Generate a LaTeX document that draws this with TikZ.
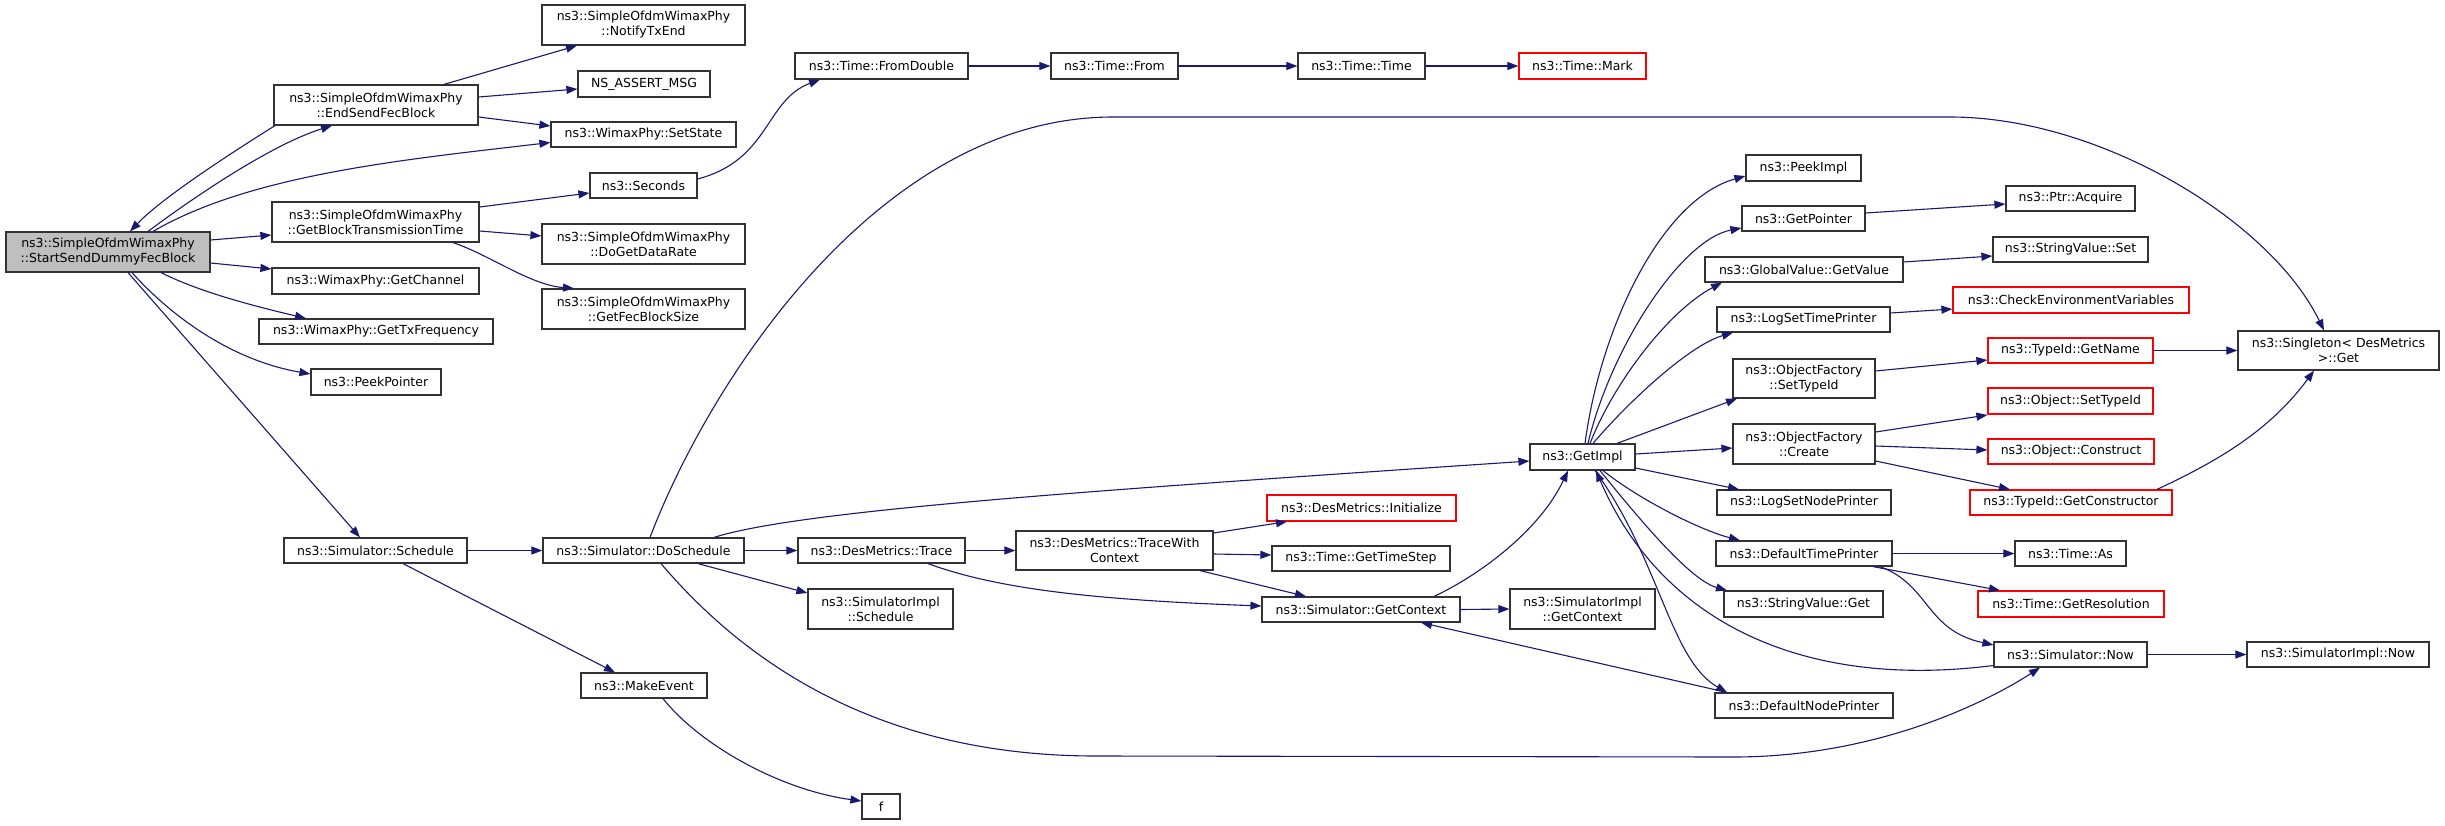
\documentclass[tikz,border=0pt]{standalone}
\usepackage{fontspec}
\setmainfont{DejaVu Sans}
\usetikzlibrary{arrows.meta}
\definecolor{edgecol}{HTML}{191970}
\definecolor{nodeborder}{HTML}{333333}
\definecolor{startfill}{HTML}{BFBFBF}
\definecolor{redborder}{HTML}{FF0000}
\newcommand\mybox[7][box]{\node[#1, minimum width=#5pt, minimum height=#6pt] (#2) at (#3,#4) {#7};}
\begin{document}
\begin{tikzpicture}[x=1pt,y=-1pt,
  box/.style={draw=nodeborder, line width=1.2pt, fill=white, inner sep=0pt, align=center, font=\fontsize{12.5}{15}\selectfont},
  redbox/.style={box, draw=redborder},
  startbox/.style={box, fill=startfill},
  edge/.style={draw=edgecol, line width=1.1pt, -{Triangle[length=11pt,width=8pt]}}]
\fill[white] (0,0) rectangle (2445,825);
\useasboundingbox (0,0) rectangle (2445,825);
% column 1
\mybox[startbox]{start}{108}{252}{204}{40}{ns3::SimpleOfdmWimaxPhy\\::StartSendDummyFecBlock}
% column 2
\mybox{endsend}{376}{105}{204}{40}{ns3::SimpleOfdmWimaxPhy\\::EndSendFecBlock}
\mybox{getblock}{375.5}{222}{207}{40}{ns3::SimpleOfdmWimaxPhy\\::GetBlockTransmissionTime}
\mybox{getchan}{375.5}{281}{207}{26}{ns3::WimaxPhy::GetChannel}
\mybox{gettxf}{376}{331.5}{234}{25}{ns3::WimaxPhy::GetTxFrequency}
\mybox{peekptr}{376}{382}{130}{26}{ns3::PeekPointer}
\mybox{schedule}{375.5}{550.5}{183}{25}{ns3::Simulator::Schedule}
% column 3
\mybox{notify}{643.5}{25}{203}{40}{ns3::SimpleOfdmWimaxPhy\\::NotifyTxEnd}
\mybox{nsassert}{644}{84}{132}{26}{NS\_ASSERT\_MSG}
\mybox{setstate}{643.5}{134.5}{185}{25}{ns3::WimaxPhy::SetState}
\mybox{seconds}{643.5}{185.5}{107}{25}{ns3::Seconds}
\mybox{dogetdr}{643.5}{244}{203}{40}{ns3::SimpleOfdmWimaxPhy\\::DoGetDataRate}
\mybox{getfec}{643.5}{309}{203}{40}{ns3::SimpleOfdmWimaxPhy\\::GetFecBlockSize}
\mybox{dosched}{643.5}{550.5}{201}{25}{ns3::Simulator::DoSchedule}
\mybox{makeevent}{644}{685.5}{126}{25}{ns3::MakeEvent}
% column 4
\mybox{fromdouble}{881.5}{66}{173}{26}{ns3::Time::FromDouble}
\mybox{trace}{881.5}{550.5}{167}{25}{ns3::DesMetrics::Trace}
\mybox{implsched}{880.5}{609}{145}{40}{ns3::SimulatorImpl\\::Schedule}
\mybox{f}{881}{806.5}{38}{25}{f}
% column 5
\mybox{timefrom}{1114.5}{66}{127}{26}{ns3::Time::From}
\mybox{twc}{1114.5}{550.5}{197}{39}{ns3::DesMetrics::TraceWith\\Context}
% column 6
\mybox{timetime}{1361.5}{66}{127}{26}{ns3::Time::Time}
\mybox[redbox]{dminit}{1361.5}{508}{189}{26}{ns3::DesMetrics::Initialize}
\mybox{gettimestep}{1361}{558.5}{178}{25}{ns3::Time::GetTimeStep}
\mybox{getctx}{1361}{609.5}{198}{25}{ns3::Simulator::GetContext}
% column 7
\mybox[redbox]{timemark}{1582.5}{66}{127}{26}{ns3::Time::Mark}
\mybox{getimpl}{1582.5}{457}{105}{26}{ns3::GetImpl}
\mybox{implgetctx}{1582.5}{609}{145}{40}{ns3::SimulatorImpl\\::GetContext}
% column 8
\mybox{peekimpl}{1803.5}{168}{115}{26}{ns3::PeekImpl}
\mybox{getpointer}{1803.5}{218.5}{123}{25}{ns3::GetPointer}
\mybox{gvgetvalue}{1804}{269.5}{198}{25}{ns3::GlobalValue::GetValue}
\mybox{logsettime}{1803.5}{319.5}{173}{25}{ns3::LogSetTimePrinter}
\mybox{ofsettype}{1804}{378.5}{142}{39}{ns3::ObjectFactory\\::SetTypeId}
\mybox{ofcreate}{1804}{444}{142}{40}{ns3::ObjectFactory\\::Create}
\mybox{logsetnode}{1804}{502.5}{174}{25}{ns3::LogSetNodePrinter}
\mybox{deftimep}{1804}{553.5}{176}{25}{ns3::DefaultTimePrinter}
\mybox{svget}{1803.5}{604}{159}{26}{ns3::StringValue::Get}
\mybox{defnodep}{1804}{705.5}{178}{25}{ns3::DefaultNodePrinter}
% column 9
\mybox{ptracq}{2070.5}{198.5}{129}{25}{ns3::Ptr::Acquire}
\mybox{svset}{2070.5}{249.5}{155}{25}{ns3::StringValue::Set}
\mybox[redbox]{checkenv}{2071}{300}{236}{26}{ns3::CheckEnvironmentVariables}
\mybox[redbox]{getname}{2070.5}{350.5}{165}{25}{ns3::TypeId::GetName}
\mybox[redbox]{objsettype}{2070.5}{401}{165}{26}{ns3::Object::SetTypeId}
\mybox[redbox]{objconstruct}{2071}{451.5}{166}{25}{ns3::Object::Construct}
\mybox[redbox]{getctor}{2071}{502.5}{202}{25}{ns3::TypeId::GetConstructor}
\mybox{timeas}{2070.5}{553.5}{111}{25}{ns3::Time::As}
\mybox[redbox]{getres}{2071}{604}{186}{26}{ns3::Time::GetResolution}
\mybox{simnow}{2070.5}{654.5}{153}{25}{ns3::Simulator::Now}
% column 10
\mybox{singleton}{2338.5}{350.5}{201}{39}{ns3::Singleton< DesMetrics\\ >::Get}
\mybox{implnow}{2338}{654.5}{182}{25}{ns3::SimulatorImpl::Now}
% ---------------- edges
\draw[edge] ([xshift=40pt]start.north) .. controls (190,200) and (270,145) .. ([xshift=-44pt]endsend.south);
\draw[edge] ([xshift=-101pt]endsend.south) .. controls (220,160) and (160,200) .. ([xshift=22pt]start.north);
\draw[edge] ([xshift=45pt]start.north) .. controls (250,175) and (400,160) .. ([yshift=-8pt]setstate.west);
\draw[edge] ([yshift=12pt]start.east) -- ([yshift=-13pt]getblock.west);
\draw[edge] ([yshift=-11pt]start.east) -- ([yshift=12pt]getchan.west);
\draw[edge] ([xshift=53pt]start.south) .. controls (200,292) and (250,305) .. ([xshift=-70pt]gettxf.north);
\draw[edge] ([xshift=24pt]start.south) .. controls (170,315) and (230,360) .. ([yshift=8pt]peekptr.west);
\draw[edge] ([xshift=20pt]start.south) -- ([xshift=-15.5pt]schedule.north);
\draw[edge] ([xshift=68pt]endsend.north) -- ([xshift=-66.5pt]notify.south);
\draw[edge] ([yshift=8pt]endsend.east) -- ([yshift=-5pt]nsassert.west);
\draw[edge] ([yshift=-12pt]endsend.east) -- ([yshift=8.5pt]setstate.west);
\draw[edge] ([yshift=15pt]getblock.east) -- ([yshift=-7.5pt]seconds.west);
\draw[edge] ([yshift=-9pt]getblock.east) -- ([yshift=8pt]dogetdr.west);
\draw[edge] ([xshift=77.5pt]getblock.south) .. controls (490,255) and (530,285) .. ([xshift=-69.5pt]getfec.north);
\draw[edge] ([yshift=6.5pt]seconds.east) .. controls (770,160) and (765,100) .. ([xshift=-61.5pt]fromdouble.south);
\draw[edge] (fromdouble.east) -- (timefrom.west);
\draw[edge] (timefrom.east) -- (timetime.west);
\draw[edge] (timetime.east) -- (timemark.west);
\draw[edge] (schedule.east) -- (dosched.west);
\draw[edge] ([xshift=27.5pt]schedule.south) -- ([xshift=-29pt]makeevent.north);
\draw[edge] ([xshift=19pt]makeevent.south) .. controls (700,745) and (780,790) .. ([yshift=5.5pt]f.west);
\draw[edge] ([xshift=6.5pt]dosched.north) .. controls (710,380) and (880,117) .. (1113,117) -- (1950,117) .. controls (2100,117) and (2270,220) .. ([xshift=-14.5pt]singleton.north);
\draw[edge] (dosched.east) -- (trace.west);
\draw[edge] ([xshift=54.5pt]dosched.south) -- ([yshift=16pt]implsched.west);
\draw[edge] ([xshift=70.5pt]dosched.north) .. controls (800,510) and (1100,490) .. ([yshift=-4pt]getimpl.west);
\draw[edge] ([xshift=17.5pt]dosched.south) .. controls (760,680) and (900,756) .. (1096,756) -- (1733,757) .. controls (1880,757) and (1990,700) .. ([xshift=-30.5pt]simnow.south);
\draw[edge] (trace.east) -- (twc.west);
\draw[edge] ([xshift=46.5pt]trace.south) .. controls (1000,590) and (1100,600) .. ([yshift=3.5pt]getctx.west);
\draw[edge] ([yshift=17.5pt]twc.east) -- ([xshift=-74.5pt]dminit.south);
\draw[edge] ([yshift=-3.5pt]twc.east) -- ([yshift=3.5pt]gettimestep.west);
\draw[edge] ([xshift=85.5pt]twc.south) -- ([xshift=-55pt]getctx.north);
\draw[edge] ([xshift=73pt]getctx.north) .. controls (1480,575) and (1540,530) .. ([xshift=-14.5pt]getimpl.south);
\draw[edge] (getctx.east) -- (implgetctx.west);
\draw[edge] ([xshift=-77pt]defnodep.north) -- ([xshift=60pt]getctx.south);
\draw[edge] ([xshift=2.5pt]getimpl.north) .. controls (1600,330) and (1660,200) .. ([yshift=-8pt]peekimpl.west);
\draw[edge] ([xshift=5.5pt]getimpl.north) .. controls (1610,350) and (1680,240) .. ([yshift=-9.5pt]getpointer.west);
\draw[edge] ([xshift=7.5pt]getimpl.north) .. controls (1615,380) and (1670,310) .. ([xshift=-82pt]gvgetvalue.south);
\draw[edge] ([xshift=10.5pt]getimpl.north) .. controls (1630,400) and (1690,345) .. ([xshift=-70.5pt]logsettime.south);
\draw[edge] ([xshift=34.5pt]getimpl.north) -- ([xshift=-67pt]ofsettype.south);
\draw[edge] ([yshift=3pt]getimpl.east) -- ([yshift=-4pt]ofcreate.west);
\draw[edge] ([yshift=-11pt]getimpl.east) -- ([xshift=-65pt]logsetnode.north);
\draw[edge] ([xshift=20.5pt]getimpl.south) .. controls (1640,500) and (1700,530) .. ([xshift=-64pt]deftimep.north);
\draw[edge] ([xshift=17.5pt]getimpl.south) .. controls (1640,520) and (1690,580) .. ([xshift=-76.5pt]svget.north);
\draw[edge] ([xshift=12.5pt]getimpl.south) .. controls (1660,560) and (1670,660) .. ([xshift=-77pt]defnodep.north);
\draw[edge] ([yshift=-11pt]simnow.west) .. controls (1800,690) and (1660,620) .. ([xshift=13.5pt]getimpl.south);
\draw[edge] (deftimep.east) -- (timeas.west);
\draw[edge] ([xshift=69pt]deftimep.south) -- ([xshift=-71pt]getres.north);
\draw[edge] ([xshift=76pt]deftimep.south) .. controls (1930,585) and (1925,630) .. ([yshift=9.5pt]simnow.west);
\draw[edge] (simnow.east) -- (implnow.west);
\draw[edge] ([yshift=5.5pt]getpointer.east) -- ([yshift=-5.5pt]ptracq.west);
\draw[edge] ([yshift=7.5pt]gvgetvalue.east) -- ([yshift=-6.5pt]svset.west);
\draw[edge] ([yshift=6.5pt]logsettime.east) -- ([yshift=-9pt]checkenv.west);
\draw[edge] ([yshift=7.5pt]ofsettype.east) -- ([yshift=-9.5pt]getname.west);
\draw[edge] (getname.east) -- (singleton.west);
\draw[edge] ([yshift=12pt]ofcreate.east) -- ([yshift=-14pt]objsettype.west);
\draw[edge] ([yshift=-2pt]ofcreate.east) -- ([yshift=1.5pt]objconstruct.west);
\draw[edge] ([yshift=-17pt]ofcreate.east) -- ([xshift=-61pt]getctor.north);
\draw[edge] ([xshift=86pt]getctor.north) .. controls (2220,460) and (2270,430) .. ([xshift=-24.5pt]singleton.south);
\end{tikzpicture}
\end{document}
